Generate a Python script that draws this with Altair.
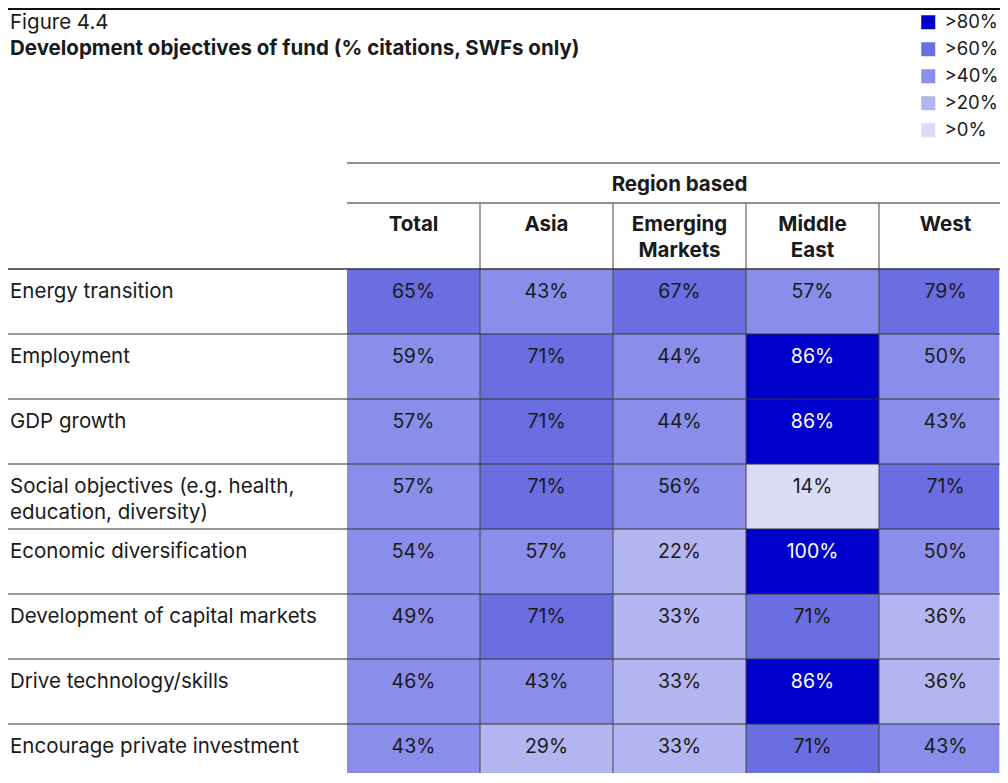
import altair as alt
import pandas as pd

# ---------------- data ----------------
figure_label = "Figure 4.4"
chart_title = "Development objectives of fund (% citations, SWFs only)"
group_title = "Region based"
objectives = [
    "Energy transition",
    "Employment",
    "GDP growth",
    "Social objectives (e.g. health,|education, diversity)",
    "Economic diversification",
    "Development of capital markets",
    "Drive technology/skills",
    "Encourage private investment",
]
regions = ["Total", "Asia", "Emerging|Markets", "Middle|East", "West"]
total = [65, 59, 57, 57, 54, 49, 46, 43]
asia = [43, 71, 71, 71, 57, 71, 43, 29]
emerging = [67, 44, 44, 56, 22, 33, 33, 33]
middle_east = [57, 86, 86, 14, 100, 71, 86, 71]
west = [79, 50, 43, 71, 50, 36, 36, 43]
bands = [">80%", ">60%", ">40%", ">20%", ">0%"]
band_colors = ["#0000cc", "#6a6ee1", "#8a8eea", "#b3b5f0", "#dadbf7"]

series = [total, asia, emerging, middle_east, west]

# ---------------- tables ----------------
def band_of(v):
    if v > 80:
        return bands[0]
    if v > 60:
        return bands[1]
    if v > 40:
        return bands[2]
    if v > 20:
        return bands[3]
    return bands[4]

rows = []
for i, obj in enumerate(objectives):
    for j, reg in enumerate(regions):
        v = series[j][i]
        rows.append({
            "objective": obj, "region": reg, "value": v,
            "label": f"{v}%", "band": band_of(v),
            "row": i, "row2": i + 1, "col": j, "col2": j + 1, "colmid": j + 0.5,
        })
cells = pd.DataFrame(rows)
row_df = pd.DataFrame({"objective": objectives, "row": list(range(len(objectives)))})
col_df = pd.DataFrame({"region": regions, "colmid": [j + 0.5 for j in range(len(regions))]})
grp_df = pd.DataFrame({"t": [group_title], "colmid": [len(regions) / 2]})
hlines = pd.DataFrame({"b": list(range(1, len(objectives)))})
vlines = pd.DataFrame({"b": list(range(1, len(regions)))})

# ---------------- layout ----------------
CW, RH = 133, 65
W, H = 652, 504
LEFT, TOP = 339, 261
FONT = "Inter"
INK = "#1a1a1a"
FS = 20.5

X = alt.Scale(domain=[0, W / CW], nice=False, zero=False)
Y = alt.Scale(domain=[0, H / RH], nice=False, zero=False, reverse=True)

rects = alt.Chart(cells).mark_rect(clip=True).encode(
    x=alt.X("col:Q", scale=X, axis=None),
    x2="col2:Q",
    y=alt.Y("row:Q", scale=Y, axis=None),
    y2="row2:Q",
    color=alt.Color(
        "band:N",
        scale=alt.Scale(domain=bands, range=band_colors),
        legend=alt.Legend(
            orient="none", legendX=572, legendY=-256, title=None,
            symbolType="square", symbolSize=196, symbolStrokeWidth=0,
            symbolOpacity=1, labelFontSize=18.5, labelFont=FONT,
            labelColor=INK, rowPadding=8, labelOffset=7,
        ),
    ),
)

val_dark = alt.Chart(cells).transform_filter(
    alt.datum.value <= 80
).mark_text(font=FONT, fontSize=19.5, color=INK, baseline="middle", dy=23, clip=True).encode(
    x=alt.X("colmid:Q", scale=X), y=alt.Y("row:Q", scale=Y), text="label:N"
)
val_light = alt.Chart(cells).transform_filter(
    alt.datum.value > 80
).mark_text(font=FONT, fontSize=19.5, color="white", baseline="middle", dy=23, clip=True).encode(
    x=alt.X("colmid:Q", scale=X), y=alt.Y("row:Q", scale=Y), text="label:N"
)

row_labels = alt.Chart(row_df).mark_text(
    font=FONT, fontSize=FS, color=INK, align="left", baseline="top",
    dy=13, lineBreak="|", lineHeight=26,
).encode(x=alt.value(-337), y=alt.Y("row:Q", scale=Y), text="objective:N")

col_labels = alt.Chart(col_df).mark_text(
    font=FONT, fontSize=FS, fontWeight="bold", color=INK, align="center",
    baseline="top", lineBreak="|", lineHeight=26,
).encode(x=alt.X("colmid:Q", scale=X), y=alt.value(-54), text="region:N")

grp_label = alt.Chart(grp_df).mark_text(
    font=FONT, fontSize=FS, fontWeight="bold", color=INK, align="center", baseline="middle",
).encode(x=alt.X("colmid:Q", scale=X), y=alt.value(-84), text="t:N")

fig_label = alt.Chart(pd.DataFrame({"t": [figure_label]})).mark_text(
    font=FONT, fontSize=FS, color=INK, align="left", baseline="middle",
).encode(x=alt.value(-337), y=alt.value(-246), text="t:N")

title_label = alt.Chart(pd.DataFrame({"t": [chart_title]})).mark_text(
    font=FONT, fontSize=FS, fontWeight="bold", color=INK, align="left", baseline="middle",
).encode(x=alt.value(-337), y=alt.value(-220), text="t:N")

top_rule = alt.Chart(pd.DataFrame({"a": [0]})).mark_rule(color="#111", strokeWidth=2).encode(
    x=alt.value(-339), x2=alt.value(W + 1), y=alt.value(-260)
)
hdr_rules = alt.Chart(pd.DataFrame({"yy": [-106, -66]})).mark_rule(
    color="#6b6b6b", strokeWidth=1.5
).encode(x=alt.value(0), x2=alt.value(W + 1), y=alt.Y("yy:Q", scale=None))
body_top = alt.Chart(pd.DataFrame({"a": [0]})).mark_rule(color="#333", strokeWidth=1.5).encode(
    x=alt.value(-339), x2=alt.value(W + 1), y=alt.value(0)
)
row_rules = alt.Chart(hlines).mark_rule(color="#333", strokeWidth=1).encode(
    x=alt.value(-339), x2=alt.value(W + 1), y=alt.Y("b:Q", scale=Y)
)
col_rules = alt.Chart(vlines).mark_rule(color="#444", strokeWidth=1).encode(
    x=alt.X("b:Q", scale=X), y=alt.value(-66), y2=alt.value(H)
)

chart = alt.layer(
    rects, row_rules, col_rules, body_top, hdr_rules, top_rule,
    val_dark, val_light, row_labels, col_labels, grp_label, fig_label, title_label,
).properties(
    width=W, height=H,
    autosize=alt.AutoSizeParams(type="none"),
    padding={"left": LEFT, "top": TOP, "right": 1, "bottom": 0},
).configure_view(stroke=None).configure(font=FONT)

chart.save("out.html", embed_options={"renderer": "svg", "actions": False})
